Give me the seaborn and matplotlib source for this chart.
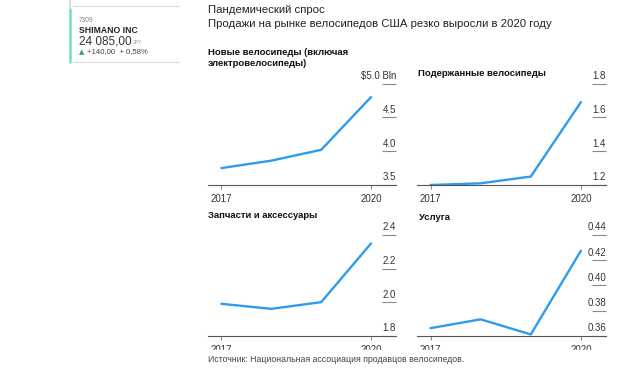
import pandas as pd
import matplotlib.pyplot as plt
import seaborn as sns
from matplotlib.lines import Line2D
from matplotlib.patches import Rectangle
from matplotlib.transforms import ScaledTranslation

# данные, млрд долл.
years = [2017, 2018, 2019, 2020]
new_bikes = [3.75, 3.86, 4.02, 4.80]
used_bikes = [1.20, 1.21, 1.25, 1.69]
parts = [1.99, 1.96, 2.00, 2.35]
service = [0.366, 0.373, 0.361, 0.4275]

titles = ['Новые велосипеды (включая\nэлектровелосипеды)', 'Подержанные велосипеды',
          'Запчасти и аксессуары', 'Услуга']
yticks = [[3.5, 4.0, 4.5, 5.0], [1.2, 1.4, 1.6, 1.8],
          [1.8, 2.0, 2.2, 2.4], [0.36, 0.38, 0.40, 0.42, 0.44]]
ylabels = [['3.5', '4.0', '4.5', '$5.0 Bln'], ['1.2', '1.4', '1.6', '1.8'],
           ['1.8', '2.0', '2.2', '2.4'], ['0.36', '0.38', '0.40', '0.42', '0.44']]

df = pd.DataFrame({'year': years * 4,
                   'value': new_bikes + used_bikes + parts + service,
                   'panel': sum([[i] * 4 for i in range(4)], [])})

sns.set_style('white')
plt.rcParams['font.family'] = ['Liberation Sans', 'DejaVu Sans']

W, H = 620, 370
fig = plt.figure(figsize=(6.2, 3.7), dpi=100)


def fx(x):
    return x / W


def fy(y):
    return 1 - y / H


# позиции панелей в пикселях: (лево, право, верх, низ)
boxes = [(208, 396, 83.5, 185), (417, 606, 83.5, 185),
         (208, 396, 235, 335.7), (417, 606, 235, 335.7)]
blue = '#2b9cef'
lift = ScaledTranslation(0, 1.8 / 72, fig.dpi_scale_trans)

for i, (l, r, t, b) in enumerate(boxes):
    ax = fig.add_axes([fx(l), fy(b), fx(r - l), (b - t) / H])
    sub = df[df['panel'] == i]
    sns.lineplot(data=sub, x='year', y='value', ax=ax, color=blue, linewidth=1.7)
    ax.set_xlim(2016.73, 2020.5)
    ax.set_ylim(yticks[i][0], yticks[i][-1])
    ax.set_xlabel('')
    ax.set_ylabel('')
    ax.set_xticks([2017, 2020])
    ax.set_xticklabels(['2017', '2020'])
    ax.set_yticks(yticks[i])
    ax.set_yticklabels(ylabels[i])
    ax.yaxis.tick_right()
    for s in ['top', 'left', 'right']:
        ax.spines[s].set_visible(False)
    ax.spines['bottom'].set_color('#555555')
    ax.spines['bottom'].set_linewidth(0.8)
    ax.tick_params(axis='y', right=True, direction='in', length=10, width=0.8,
                   color='#888888', pad=0, labelsize=7, labelcolor='#333333')
    ax.tick_params(axis='x', bottom=True, direction='out', length=3, width=0.8,
                   color='#888888', pad=3.5, labelsize=7, labelcolor='#333333')
    for lab in ax.get_yticklabels():
        lab.set_horizontalalignment('right')
        lab.set_verticalalignment('bottom')
        lab.set_transform(lab.get_transform() + lift)
    ax.patch.set_visible(False)

# подписи панелей
fig.text(fx(208), fy(48), titles[0], fontsize=6.8, fontweight='bold', color='#111111',
         va='top', linespacing=1.25)
fig.text(fx(418), fy(74), titles[1], fontsize=6.8, fontweight='bold', color='#111111', va='center')
fig.text(fx(208), fy(216), titles[2], fontsize=6.8, fontweight='bold', color='#111111', va='center')
fig.text(fx(419), fy(217), titles[3], fontsize=6.8, fontweight='bold', color='#111111', va='center')

# заголовок
fig.text(fx(208), fy(10), 'Пандемический спрос', fontsize=8.2, color='#222222', va='center')
fig.text(fx(208), fy(24), 'Продажи на рынке велосипедов США резко выросли в 2020 году',
         fontsize=8.2, color='#222222', va='center')

# нижние подписи годов обрезаны
fig.add_artist(Rectangle((fx(200), 0), fx(420), fy(349.5), transform=fig.transFigure,
                         color='white', zorder=5))
fig.text(fx(208), fy(359), 'Источник: Национальная ассоциация продавцов велосипедов.',
         fontsize=6.3, color='#444444', va='center', zorder=6)

# боковой виджет с акцией
gray = '#dddddd'
fig.add_artist(Line2D([fx(73), fx(179)], [fy(6), fy(6)], color=gray, lw=0.8))
fig.add_artist(Line2D([fx(73), fx(179)], [fy(62), fy(62)], color=gray, lw=0.8))
fig.add_artist(Line2D([fx(70), fx(70)], [fy(0), fy(9)], color=gray, lw=1.6))
fig.add_artist(Line2D([fx(70), fx(70)], [fy(9), fy(62)], color='#6fe3bf', lw=1.8))
fig.text(fx(79), fy(20), '7309', fontsize=4.8, color='#888888', va='center')
fig.text(fx(79), fy(30.5), 'SHIMANO INC', fontsize=6.2, fontweight='bold', color='#222222', va='center')
fig.text(fx(79), fy(41.5), '24 085,00', fontsize=8.5, color='#333333', va='center')
fig.text(fx(133), fy(42.5), 'JPY', fontsize=3.8, color='#999999', va='center')
fig.text(fx(79), fy(52), '▲', fontsize=5, color='#2aa564', va='center', family=['DejaVu Sans'])
fig.text(fx(87), fy(52), '+140,00  + 0,58%', fontsize=5.6, color='#444444', va='center')

fig.savefig('out.png', dpi=100)
